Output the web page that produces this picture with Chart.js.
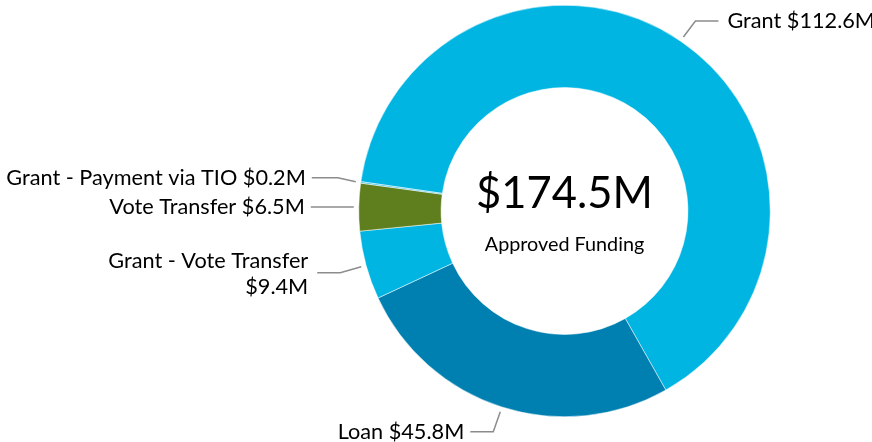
<!DOCTYPE html>
<html>
<head>
<meta charset="utf-8">
<script src="https://cdn.jsdelivr.net/npm/chart.js@4"></script>
<style>
  html, body { margin: 0; padding: 0; background: #fff; }
  #wrap { width: 872px; height: 442px; position: relative; }
</style>
</head>
<body>
<div id="wrap"><canvas id="fundingChart"></canvas></div>
<script>
// funding split, $M
const categories = ["Grant", "Loan", "Grant - Vote Transfer", "Vote Transfer", "Grant - Payment via TIO"];
const amounts = [112.6, 45.8, 9.4, 6.5, 0.2];
const sliceColors = ["#00b5e2", "#0080b1", "#00b5e2", "#5f7f1e", "#3ec3e8"];
const totalLabel = "$174.5M";
const centerCaption = "Approved Funding";

// leader line shapes per slice: bend offset from the ring, then horizontal run
const leaders = [
  { bx: 12, by: -16, run: 23, side: "right", wrap: false },
  { bx: -7, by: 20, run: -23, side: "left", wrap: false },
  { bx: -21, by: 6, run: -23, side: "left", wrap: true },
  { bx: 0, by: 0, run: -43, side: "left", wrap: false },
  { bx: -18, by: -4, run: -26, side: "left", wrap: false },
];

const FONT = "Lato, 'Open Sans', sans-serif";

const calloutPlugin = {
  id: "callouts",
  afterDraw(chart) {
    const ctx = chart.ctx;
    const arcs = chart.getDatasetMeta(0).data;
    ctx.save();

    arcs.forEach((arc, i) => {
      const { x, y, startAngle, endAngle, outerRadius } = arc.getProps(["x", "y", "startAngle", "endAngle", "outerRadius"], true);
      const mid = (startAngle + endAngle) / 2;
      const r = outerRadius + 5;
      const sx = x + Math.cos(mid) * r;
      const sy = y + Math.sin(mid) * r;
      const l = leaders[i];
      const bx = sx + l.bx;
      const by = sy + l.by;
      const ex = bx + l.run;

      ctx.strokeStyle = "#8c8c8c";
      ctx.lineWidth = 1.5;
      ctx.beginPath();
      ctx.moveTo(sx, sy);
      ctx.lineTo(bx, by);
      ctx.lineTo(ex, by);
      ctx.stroke();

      const text = `${categories[i]} $${amounts[i].toFixed(1)}M`;
      ctx.fillStyle = "#000";
      ctx.font = `21.7px ${FONT}`;
      ctx.textBaseline = "middle";
      if (l.side === "right") {
        ctx.textAlign = "left";
        ctx.fillText(text, ex + 9, by);
      } else {
        ctx.textAlign = "right";
        if (l.wrap) {
          ctx.fillText(categories[i], ex - 9, by - 12);
          ctx.fillText(`$${amounts[i].toFixed(1)}M`, ex - 9, by + 14);
        } else {
          ctx.fillText(text, ex - 6, by);
        }
      }
    });

    // centre total
    const cx = arcs[0].x;
    const cy = arcs[0].y;
    ctx.textAlign = "center";
    ctx.textBaseline = "middle";
    ctx.fillStyle = "#000";
    ctx.font = `43.5px ${FONT}`;
    ctx.fillText(totalLabel, cx, cy - 17);
    ctx.font = `19.8px ${FONT}`;
    ctx.fillText(centerCaption, cx, cy + 34);
    ctx.restore();
  },
};

new Chart(document.getElementById("fundingChart"), {
  type: "doughnut",
  data: {
    labels: categories,
    datasets: [
      {
        data: amounts,
        backgroundColor: sliceColors,
        borderColor: "#ffffff",
        borderWidth: 0.5,
        hoverOffset: 0,
      },
    ],
  },
  options: {
    responsive: true,
    maintainAspectRatio: false,
    animation: false,
    cutout: "60%",
    rotation: -81.8,
    layout: { padding: { left: 358, right: 101, top: 5, bottom: 25 } },
    plugins: {
      legend: { display: false },
      tooltip: { enabled: false },
    },
  },
  plugins: [calloutPlugin],
});
</script>
</body>
</html>
